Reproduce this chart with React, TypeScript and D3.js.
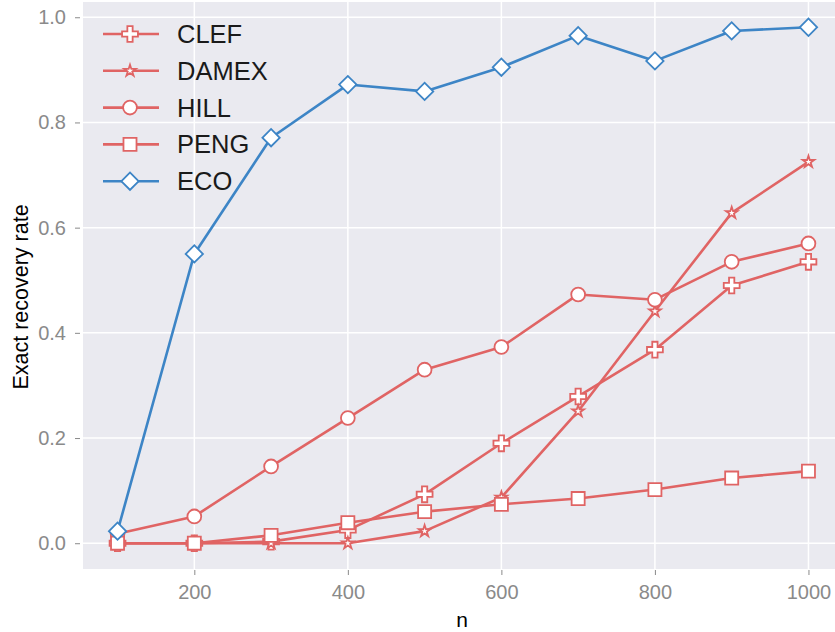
import { useEffect, useRef } from 'react';
import * as d3 from 'd3';

const nValues = [100, 200, 300, 400, 500, 600, 700, 800, 900, 1000];
const clef = [0, 0, 0.003, 0.025, 0.093, 0.19, 0.279, 0.368, 0.49, 0.535];
const damex = [0, 0, 0, 0, 0.023, 0.087, 0.251, 0.441, 0.628, 0.725];
const hill = [0.018, 0.051, 0.146, 0.238, 0.33, 0.373, 0.473, 0.463, 0.535, 0.57];
const peng = [0, 0, 0.015, 0.039, 0.06, 0.074, 0.085, 0.102, 0.124, 0.137];
const eco = [0.023, 0.55, 0.771, 0.872, 0.859, 0.905, 0.965, 0.917, 0.974, 0.981];
const xTicks = [200, 400, 600, 800, 1000];
const yTicks = [0, 0.2, 0.4, 0.6, 0.8, 1.0];

const RED = '#e06464';
const BLUE = '#3d85c6';

const series = [
  { name: 'CLEF', values: clef, color: RED, marker: 'plus' },
  { name: 'DAMEX', values: damex, color: RED, marker: 'star' },
  { name: 'HILL', values: hill, color: RED, marker: 'circle' },
  { name: 'PENG', values: peng, color: RED, marker: 'square' },
  { name: 'ECO', values: eco, color: BLUE, marker: 'diamond' },
];

const width = 835;
const height = 632;
const FONT = 'Liberation Sans, Arial, sans-serif';

export default function App() {
  const svgRef = useRef<SVGSVGElement>(null);

  useEffect(() => {
    document.body.style.margin = '0';
    if (!svgRef.current) return;
    const svg = d3.select(svgRef.current);
    svg.selectAll('*').remove();

    const panel = { left: 83, top: 2, right: 843, bottom: 569 };

    const x = d3.scaleLinear().domain([55, 1045]).range([panel.left, panel.right]);
    const y = d3.scaleLinear().domain([-0.049, 1.029]).range([panel.bottom, panel.top]);

    svg.append('rect')
      .attr('x', panel.left).attr('y', panel.top)
      .attr('width', panel.right - panel.left).attr('height', panel.bottom - panel.top)
      .attr('fill', '#eaeaf0');

    // grid
    svg.append('g').selectAll('line').data(yTicks).enter().append('line')
      .attr('x1', panel.left).attr('x2', panel.right)
      .attr('y1', d => y(d)).attr('y2', d => y(d))
      .attr('stroke', '#ffffff').attr('stroke-width', 1.5);
    svg.append('g').selectAll('line').data(xTicks).enter().append('line')
      .attr('y1', panel.top).attr('y2', panel.bottom)
      .attr('x1', d => x(d)).attr('x2', d => x(d))
      .attr('stroke', '#ffffff').attr('stroke-width', 1.5);

    // axes
    const yAxis = svg.append('g')
      .attr('transform', `translate(80,0)`)
      .call(d3.axisLeft(y).tickValues(yTicks).tickFormat(d3.format('.1f')).tickSize(5).tickPadding(9));
    yAxis.select('.domain').remove();
    yAxis.selectAll('line').attr('stroke', '#8a8a8a');
    yAxis.selectAll('text')
      .attr('fill', '#8a8a8a')
      .style('font-family', FONT)
      .style('font-size', '20px');

    const xAxis = svg.append('g')
      .attr('transform', `translate(0,${panel.bottom + 1})`)
      .call(d3.axisBottom(x).tickValues(xTicks).tickFormat(d3.format('d')).tickSize(5).tickPadding(10));
    xAxis.select('.domain').remove();
    xAxis.selectAll('line').attr('stroke', '#8a8a8a');
    xAxis.selectAll('text')
      .attr('fill', '#8a8a8a')
      .style('font-family', FONT)
      .style('font-size', '20px');

    svg.append('text')
      .attr('x', 462).attr('y', 627)
      .attr('text-anchor', 'middle')
      .style('font-family', FONT)
      .style('font-size', '21px')
      .text('n');

    svg.append('text')
      .attr('transform', `translate(28,297) rotate(-90)`)
      .attr('text-anchor', 'middle')
      .style('font-family', FONT)
      .style('font-size', '21.5px')
      .text('Exact recovery rate');

    const symbolFor = (m: string) => {
      switch (m) {
        case 'plus': return d3.symbol(d3.symbolCross, 140)();
        case 'star': return d3.symbol(d3.symbolStar, 42)();
        case 'circle': return d3.symbol(d3.symbolCircle, 150)();
        case 'square': return d3.symbol(d3.symbolSquare, 170)();
        default: return d3.symbol(d3.symbolSquare, 150)();
      }
    };
    const rotFor = (m: string) => (m === 'diamond' ? 'rotate(45)' : '');

    const line = d3.line<number>()
      .x((_, i) => x(nValues[i]))
      .y(d => y(d));

    series.forEach(s => {
      const g = svg.append('g');
      g.append('path')
        .attr('d', line(s.values))
        .attr('fill', 'none')
        .attr('stroke', s.color)
        .attr('stroke-width', 2.6)
        .attr('stroke-linejoin', 'round');
      g.selectAll('path.m').data(s.values).enter().append('path')
        .attr('class', 'm')
        .attr('d', symbolFor(s.marker))
        .attr('transform', (d, i) => `translate(${x(nValues[i])},${y(d)}) ${rotFor(s.marker)}`)
        .attr('fill', '#ffffff')
        .attr('stroke', s.color)
        .attr('stroke-width', 1.8);
    });

    // legend
    const lg = svg.append('g').attr('transform', 'translate(103,34)');
    series.forEach((s, i) => {
      const row = lg.append('g').attr('transform', `translate(0,${i * 36.8})`);
      row.append('line')
        .attr('x1', 0).attr('x2', 56).attr('y1', 0).attr('y2', 0)
        .attr('stroke', s.color).attr('stroke-width', 2.6);
      row.append('path')
        .attr('d', symbolFor(s.marker))
        .attr('transform', `translate(27,0) ${rotFor(s.marker)}`)
        .attr('fill', '#ffffff')
        .attr('stroke', s.color)
        .attr('stroke-width', 1.8);
      row.append('text')
        .attr('x', 74).attr('y', 0).attr('dy', '0.35em')
        .style('font-family', FONT)
        .style('font-size', '25.5px')
        .attr('fill', '#1a1a1a')
        .text(s.name);
    });
  }, []);

  return <svg ref={svgRef} width={width} height={height} style={{ display: 'block' }} />;
}
